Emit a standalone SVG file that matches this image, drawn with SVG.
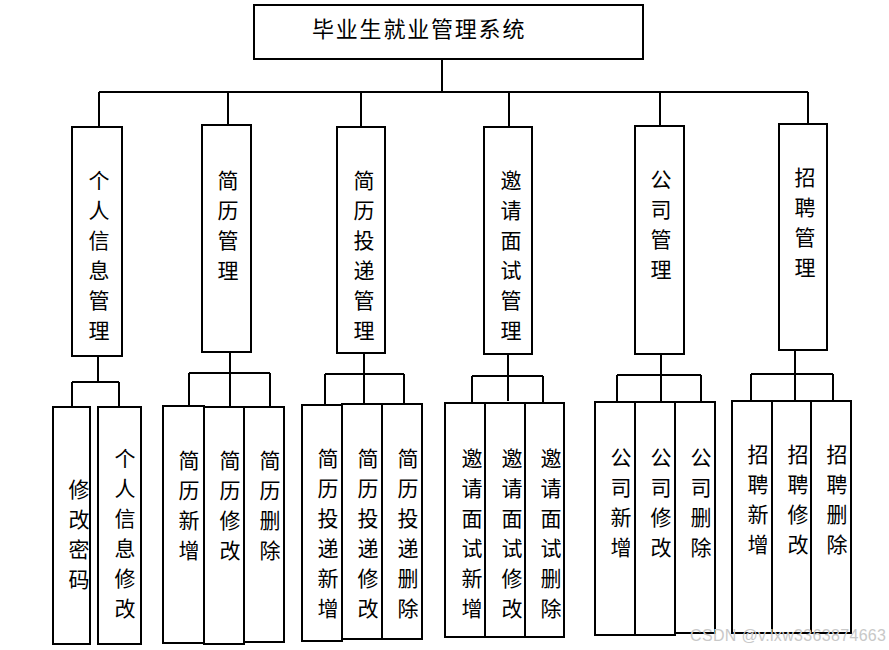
<svg xmlns="http://www.w3.org/2000/svg" width="889" height="650" viewBox="0 0 889 650">
<style>
.b{fill:#fff;stroke:#000;stroke-width:2}
.c{fill:none;stroke:#000;stroke-width:2}
.t{font-family:"Noto Sans CJK SC","Noto Sans CJK JP",sans-serif;font-size:21px;fill:#000;text-anchor:middle;dominant-baseline:central}
.h{font-family:"Noto Sans CJK SC",sans-serif;font-size:22px;fill:#000;letter-spacing:1.8px;dominant-baseline:central}
.w{font-family:"Liberation Sans",sans-serif;font-size:16px;fill:#c8c8c8}
</style>
<rect width="889" height="650" fill="#fff"/>
<g id="connectors">
<path class="c" d="M442 59V92M99 92H808M99 92V127M228 92V125M361 92V127M509 92V127M660 92V126M808 92V124"/>
<path class="c" d="M98 356V382M72 382H119M72 382V407M119 382V407"/>
<path class="c" d="M230 352V406M189 373H270M189 373V406M270 373V407"/>
<path class="c" d="M364 353V404M325 374H404M325 374V405M404 374V404"/>
<path class="c" d="M508 353V401M472 376H543M472 376V403M543 376V403"/>
<path class="c" d="M661 354V402M617 375H701M617 375V402M701 375V402"/>
<path class="c" d="M795 350V401M751 374H833M751 374V401M833 374V401"/>
</g>
<g id="root"><rect class="b" x="254" y="5" width="389" height="54"/><text class="h" x="312" y="27">毕业生就业管理系统</text></g>
<g id="n1"><rect class="b" x="72" y="127" width="50" height="229"/><text class="t"><tspan x="99" y="179">个</tspan><tspan x="99" dy="30">人</tspan><tspan x="99" dy="30">信</tspan><tspan x="99" dy="30">息</tspan><tspan x="99" dy="30">管</tspan><tspan x="99" dy="30">理</tspan></text></g>
<g id="n2"><rect class="b" x="202" y="125" width="49" height="227"/><text class="t"><tspan x="228" y="179">简</tspan><tspan x="228" dy="30">历</tspan><tspan x="228" dy="30">管</tspan><tspan x="228" dy="30">理</tspan></text></g>
<g id="n3"><rect class="b" x="337" y="127" width="48" height="226"/><text class="t"><tspan x="364" y="179">简</tspan><tspan x="364" dy="30">历</tspan><tspan x="364" dy="30">投</tspan><tspan x="364" dy="30">递</tspan><tspan x="364" dy="30">管</tspan><tspan x="364" dy="30">理</tspan></text></g>
<g id="n4"><rect class="b" x="484" y="127" width="48" height="227"/><text class="t"><tspan x="511" y="179">邀</tspan><tspan x="511" dy="30">请</tspan><tspan x="511" dy="30">面</tspan><tspan x="511" dy="30">试</tspan><tspan x="511" dy="30">管</tspan><tspan x="511" dy="30">理</tspan></text></g>
<g id="n5"><rect class="b" x="635" y="126" width="49" height="228"/><text class="t"><tspan x="661" y="178">公</tspan><tspan x="661" dy="30">司</tspan><tspan x="661" dy="30">管</tspan><tspan x="661" dy="30">理</tspan></text></g>
<g id="n6"><rect class="b" x="779" y="124" width="48" height="226"/><text class="t"><tspan x="805" y="176">招</tspan><tspan x="805" dy="30">聘</tspan><tspan x="805" dy="30">管</tspan><tspan x="805" dy="30">理</tspan></text></g>

<g id="n1a"><rect class="b" x="53" y="407" width="37" height="237"/><text class="t"><tspan x="79" y="488">修</tspan><tspan x="79" dy="30">改</tspan><tspan x="79" dy="30">密</tspan><tspan x="79" dy="30">码</tspan></text></g>
<g id="n1b"><rect class="b" x="98" y="407" width="43" height="237"/><text class="t"><tspan x="125" y="457">个</tspan><tspan x="125" dy="30">人</tspan><tspan x="125" dy="30">信</tspan><tspan x="125" dy="30">息</tspan><tspan x="125" dy="30">修</tspan><tspan x="125" dy="30">改</tspan></text></g>

<g id="n2a"><rect class="b" x="163" y="406" width="41" height="237"/><text class="t"><tspan x="189" y="459">简</tspan><tspan x="189" dy="30">历</tspan><tspan x="189" dy="30">新</tspan><tspan x="189" dy="30">增</tspan></text></g>
<g id="n2b"><rect class="b" x="204" y="407" width="40" height="237"/><text class="t"><tspan x="230" y="459">简</tspan><tspan x="230" dy="30">历</tspan><tspan x="230" dy="30">修</tspan><tspan x="230" dy="30">改</tspan></text></g>
<g id="n2c"><rect class="b" x="244" y="407" width="40" height="235"/><text class="t"><tspan x="270" y="459">简</tspan><tspan x="270" dy="30">历</tspan><tspan x="270" dy="30">删</tspan><tspan x="270" dy="30">除</tspan></text></g>

<g id="n3a"><rect class="b" x="302" y="405" width="40" height="236"/><text class="t"><tspan x="328" y="457">简</tspan><tspan x="328" dy="30">历</tspan><tspan x="328" dy="30">投</tspan><tspan x="328" dy="30">递</tspan><tspan x="328" dy="30">新</tspan><tspan x="328" dy="30">增</tspan></text></g>
<g id="n3b"><rect class="b" x="342" y="404" width="40" height="235"/><text class="t"><tspan x="368" y="457">简</tspan><tspan x="368" dy="30">历</tspan><tspan x="368" dy="30">投</tspan><tspan x="368" dy="30">递</tspan><tspan x="368" dy="30">修</tspan><tspan x="368" dy="30">改</tspan></text></g>
<g id="n3c"><rect class="b" x="382" y="404" width="40" height="235"/><text class="t"><tspan x="408" y="457">简</tspan><tspan x="408" dy="30">历</tspan><tspan x="408" dy="30">投</tspan><tspan x="408" dy="30">递</tspan><tspan x="408" dy="30">删</tspan><tspan x="408" dy="30">除</tspan></text></g>

<g id="n4a"><rect class="b" x="445" y="403" width="40" height="234"/><text class="t"><tspan x="472" y="457">邀</tspan><tspan x="472" dy="30">请</tspan><tspan x="472" dy="30">面</tspan><tspan x="472" dy="30">试</tspan><tspan x="472" dy="30">新</tspan><tspan x="472" dy="30">增</tspan></text></g>
<g id="n4b"><rect class="b" x="485" y="403" width="40" height="234"/><text class="t"><tspan x="512" y="457">邀</tspan><tspan x="512" dy="30">请</tspan><tspan x="512" dy="30">面</tspan><tspan x="512" dy="30">试</tspan><tspan x="512" dy="30">修</tspan><tspan x="512" dy="30">改</tspan></text></g>
<g id="n4c"><rect class="b" x="525" y="403" width="39" height="234"/><text class="t"><tspan x="551" y="457">邀</tspan><tspan x="551" dy="30">请</tspan><tspan x="551" dy="30">面</tspan><tspan x="551" dy="30">试</tspan><tspan x="551" dy="30">删</tspan><tspan x="551" dy="30">除</tspan></text></g>

<g id="n5a"><rect class="b" x="595" y="402" width="40" height="233"/><text class="t"><tspan x="621" y="456">公</tspan><tspan x="621" dy="30">司</tspan><tspan x="621" dy="30">新</tspan><tspan x="621" dy="30">增</tspan></text></g>
<g id="n5b"><rect class="b" x="635" y="402" width="40" height="233"/><text class="t"><tspan x="661" y="456">公</tspan><tspan x="661" dy="30">司</tspan><tspan x="661" dy="30">修</tspan><tspan x="661" dy="30">改</tspan></text></g>
<g id="n5c"><rect class="b" x="675" y="402" width="40" height="231"/><text class="t"><tspan x="701" y="456">公</tspan><tspan x="701" dy="30">司</tspan><tspan x="701" dy="30">删</tspan><tspan x="701" dy="30">除</tspan></text></g>

<g id="n6a"><rect class="b" x="732" y="401" width="40" height="232"/><text class="t"><tspan x="758" y="453">招</tspan><tspan x="758" dy="30">聘</tspan><tspan x="758" dy="30">新</tspan><tspan x="758" dy="30">增</tspan></text></g>
<g id="n6b"><rect class="b" x="772" y="401" width="39" height="232"/><text class="t"><tspan x="798" y="453">招</tspan><tspan x="798" dy="30">聘</tspan><tspan x="798" dy="30">修</tspan><tspan x="798" dy="30">改</tspan></text></g>
<g id="n6c"><rect class="b" x="811" y="401" width="40" height="232"/><text class="t"><tspan x="837" y="453">招</tspan><tspan x="837" dy="30">聘</tspan><tspan x="837" dy="30">删</tspan><tspan x="837" dy="30">除</tspan></text></g>

<text class="w" x="690" y="641" textLength="196">CSDN @v.lxw3363874663</text>
</svg>
